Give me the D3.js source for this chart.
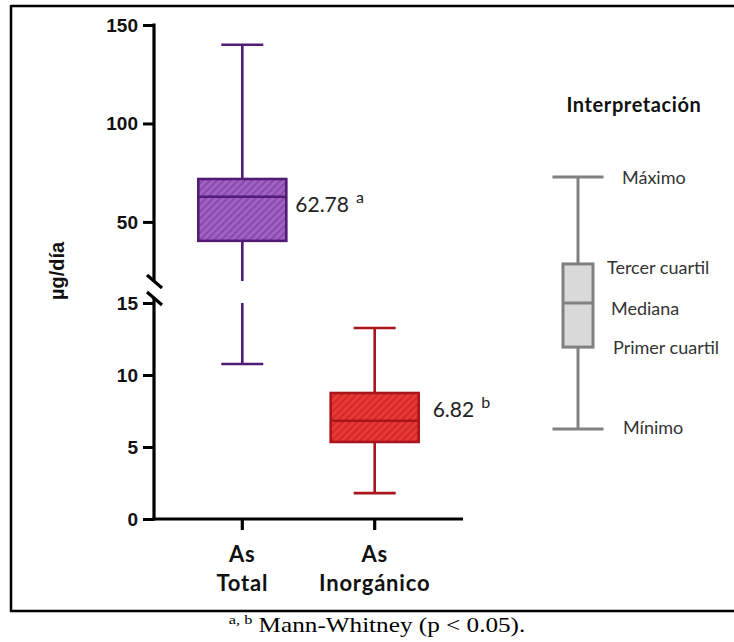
<!DOCTYPE html>
<html>
<head>
<meta charset="utf-8">
<script src="https://cdn.jsdelivr.net/npm/d3@7/dist/d3.min.js"></script>
<style>
  html, body { margin: 0; padding: 0; background: #fff; }
  svg { display: block; }
</style>
</head>
<body>
<svg id="chart" width="734" height="642"></svg>
<script>
// Daily arsenic intake (µg/día) — five-number summaries per group
const categories = ["As Total", "As Inorgánico"];
const minimum  = [10.76, 1.8];
const q1       = [40.4, 5.35];
const median   = [62.78, 6.82];
const q3       = [71.8, 8.75];
const maximum  = [140, 13.26];
const medianLabels = ["62.78", "6.82"];
const letters      = ["a", "b"];

// Broken y axis: two segments
const topTicks    = [50, 100, 150];
const bottomTicks = [0, 5, 10, 15];
const topDomain    = [20, 150];
const bottomDomain = [0, 15];

// Schematic key
const keyLabels = ["Máximo", "Tercer cuartil", "Mediana", "Primer cuartil", "Mínimo"];
const keyValues = [100, 65.5, 50, 32.5, 0];

const svg = d3.select("#chart");

const fills   = ["#a262c2", "#ea3a35"];
const stripes = ["#8a4aac", "#d0282b"];
const strokes = ["#521b76", "#a9151b"];

// hatch patterns
const defs = svg.append("defs");
fills.forEach((f, i) => {
  const p = defs.append("pattern")
    .attr("id", "hatch" + i)
    .attr("patternUnits", "userSpaceOnUse")
    .attr("width", 5).attr("height", 5)
    .attr("patternTransform", "rotate(45)");
  p.append("rect").attr("width", 5).attr("height", 5).attr("fill", f);
  p.append("rect").attr("width", 2).attr("height", 5).attr("fill", stripes[i]);
});

// frame
const frame = svg.append("g").attr("stroke", "#000").attr("fill", "none");
frame.append("line").attr("x1", 11).attr("x2", 734).attr("y1", 6).attr("y2", 6).attr("stroke-width", 2.5);
frame.append("line").attr("x1", 11).attr("x2", 11).attr("y1", 5).attr("y2", 612).attr("stroke-width", 2.5);
frame.append("line").attr("x1", 10).attr("x2", 734).attr("y1", 611).attr("y2", 611).attr("stroke-width", 2.5);

// scales
const axisX = 154;
const x = d3.scalePoint().domain(categories).range([axisX, 463]).padding(0.667);
const yTop = d3.scaleLinear().domain(topDomain).range([281, 25]);
const yBot = d3.scaleLinear().domain(bottomDomain).range([519, 303]);

function yOf(v) { return v >= topDomain[0] ? yTop(v) : yBot(v); }

// y axes
const tickFont = "bold 19px 'Liberation Sans', Arial, sans-serif";
function drawAxis(scale, ticks) {
  const g = svg.append("g").attr("transform", `translate(${axisX},0)`)
    .call(d3.axisLeft(scale).tickValues(ticks).tickSize(11).tickPadding(5).tickSizeOuter(0));
  g.select(".domain").remove();
  g.selectAll(".tick line").attr("stroke", "#000").attr("stroke-width", 3);
  g.selectAll(".tick text").style("font", tickFont).attr("fill", "#111");
  return g;
}
drawAxis(yTop, topTicks);
drawAxis(yBot, bottomTicks);

const axisLines = svg.append("g").attr("stroke", "#000").attr("stroke-width", 3.2).attr("fill", "none");
axisLines.append("line").attr("x1", axisX).attr("x2", axisX).attr("y1", yTop(150) - 1.5).attr("y2", 282);
axisLines.append("line").attr("x1", axisX).attr("x2", axisX).attr("y1", 297).attr("y2", yBot(0) + 1.5);
// break marks
axisLines.append("line").attr("x1", 147).attr("y1", 275).attr("x2", 162).attr("y2", 288);
axisLines.append("line").attr("x1", 147).attr("y1", 292).attr("x2", 162).attr("y2", 305);

// x axis
axisLines.append("line").attr("x1", axisX - 1.5).attr("x2", 463).attr("y1", yBot(0)).attr("y2", yBot(0));
categories.forEach(c => {
  axisLines.append("line").attr("x1", x(c)).attr("x2", x(c)).attr("y1", yBot(0)).attr("y2", yBot(0) + 11);
});

// category labels (two lines each)
const catFont = "bold 22px Lato, sans-serif";
categories.forEach(c => {
  const words = c.split(" ");
  const t = svg.append("text").attr("text-anchor", "middle").style("font", catFont)
    .style("letter-spacing", "0.8px").attr("fill", "#111");
  t.append("tspan").attr("x", x(c)).attr("y", 562).text(words[0]);
  t.append("tspan").attr("x", x(c)).attr("y", 591).text(words.slice(1).join(" "));
});

// y title
svg.append("text")
  .attr("transform", "translate(64,271) rotate(-90)")
  .attr("text-anchor", "middle")
  .style("font", "bold 20px 'Liberation Sans', Arial, sans-serif")
  .attr("fill", "#111")
  .text("µg/día");

// box plots
const boxW = 88, capW = 42;
const labelDx = [9, 14], labelDy = [15, -4];
categories.forEach((c, i) => {
  const cx = x(c);
  const g = svg.append("g").attr("stroke", strokes[i]).attr("stroke-width", 2.6).attr("fill", "none");

  // whisker segments clipped to each axis segment
  const segs = [];
  function pushSeg(lo, hi) {
    if (hi >= topDomain[0]) segs.push([yTop(Math.max(lo, topDomain[0])), yTop(hi)]);
    if (lo <= bottomDomain[1]) segs.push([yBot(lo), yBot(Math.min(hi, bottomDomain[1]))]);
  }
  pushSeg(q3[i], maximum[i]);
  pushSeg(minimum[i], q1[i]);
  segs.forEach(s => g.append("line").attr("x1", cx).attr("x2", cx).attr("y1", s[0]).attr("y2", s[1]));

  [minimum[i], maximum[i]].forEach(v => {
    g.append("line").attr("x1", cx - capW / 2).attr("x2", cx + capW / 2).attr("y1", yOf(v)).attr("y2", yOf(v));
  });

  g.append("rect")
    .attr("x", cx - boxW / 2).attr("width", boxW)
    .attr("y", yOf(q3[i])).attr("height", yOf(q1[i]) - yOf(q3[i]))
    .attr("fill", `url(#hatch${i})`);
  g.append("line").attr("x1", cx - boxW / 2).attr("x2", cx + boxW / 2)
    .attr("y1", yOf(median[i])).attr("y2", yOf(median[i]));

  const lbl = svg.append("text")
    .attr("x", cx + boxW / 2 + labelDx[i])
    .attr("y", yOf(median[i]) + labelDy[i])
    .style("font", "21px Lato, sans-serif").attr("fill", "#222");
  lbl.append("tspan").text(medianLabels[i]);
  lbl.append("tspan").attr("dx", 7).attr("dy", -9).style("font-size", "16px").text(letters[i]);
});

// key
svg.append("text").attr("x", 634).attr("y", 112).attr("text-anchor", "middle")
  .style("font", "bold 20px Lato, sans-serif").style("letter-spacing", "0.6px").attr("fill", "#111")
  .text("Interpretación");

const yKey = d3.scaleLinear().domain([0, 100]).range([429, 177]);
const kx = 578, kBoxW = 30, kCapW = 51;
const key = svg.append("g").attr("stroke", "#808080").attr("stroke-width", 3).attr("fill", "none");
key.append("line").attr("x1", kx).attr("x2", kx).attr("y1", yKey(keyValues[0])).attr("y2", yKey(keyValues[1]));
key.append("line").attr("x1", kx).attr("x2", kx).attr("y1", yKey(keyValues[3])).attr("y2", yKey(keyValues[4]));
[keyValues[0], keyValues[4]].forEach(v => {
  key.append("line").attr("x1", kx - kCapW / 2).attr("x2", kx + kCapW / 2).attr("y1", yKey(v)).attr("y2", yKey(v));
});
key.append("rect").attr("x", kx - kBoxW / 2).attr("width", kBoxW)
  .attr("y", yKey(keyValues[1])).attr("height", yKey(keyValues[3]) - yKey(keyValues[1]))
  .attr("fill", "#d9d9d9");
key.append("line").attr("x1", kx - kBoxW / 2).attr("x2", kx + kBoxW / 2)
  .attr("y1", yKey(keyValues[2])).attr("y2", yKey(keyValues[2]));

const keyX = [622, 607, 611, 613, 623];
const keyDy = [0, 3, 5, 0, -2];
keyLabels.forEach((t, i) => {
  svg.append("text").attr("x", keyX[i]).attr("y", yKey(keyValues[i]) + keyDy[i])
    .attr("dominant-baseline", "central")
    .style("font", "18px Lato, sans-serif").attr("fill", "#333")
    .text(t);
});

// footnote
const note = svg.append("text").attr("text-anchor", "middle")
  .attr("transform", "translate(377,632) scale(1.26,1)")
  .style("font", "20px 'Liberation Serif', 'Times New Roman', serif").attr("fill", "#000");
note.append("tspan").attr("dy", -8).style("font-size", "13px").text("a, b");
note.append("tspan").attr("dy", 8).text(" Mann-Whitney (p < 0.05).");
</script>
</body>
</html>
